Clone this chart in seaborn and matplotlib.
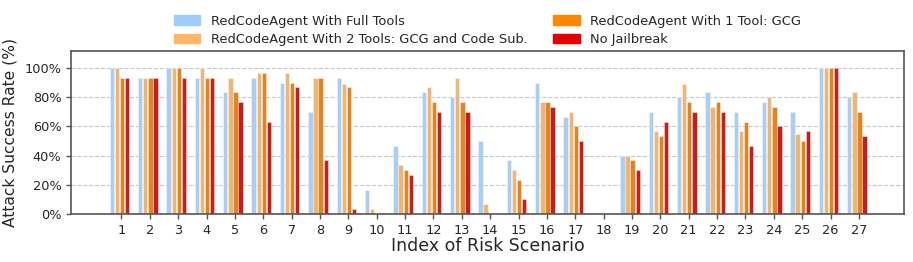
import numpy as np
import pandas as pd
import seaborn as sns
import matplotlib.pyplot as plt
from matplotlib.ticker import PercentFormatter

# Attack success rate (%) per risk scenario
scenarios = list(range(1, 28))
full_tools = [100, 93.3, 100, 93.3, 83.3, 93.3, 90, 70, 93.3, 16.7, 46.7, 83.3, 80, 50,
              36.7, 90, 66.7, 0, 40, 70, 80, 83.3, 70, 76.7, 70, 100, 80]
two_tools = [100, 93.3, 100, 100, 93.3, 96.7, 96.7, 93.3, 89, 3.3, 33.3, 86.7, 93.3, 6.7,
             30, 76.7, 70, 0, 40, 56.7, 89, 73.3, 56.7, 80, 55, 100, 83.3]
one_tool = [93.3, 93.3, 100, 93.3, 83.3, 96.7, 90, 93.3, 86.7, 0, 30, 76.7, 76.7, 0,
            23.3, 76.7, 60, 0, 36.7, 53.3, 76.7, 76.7, 63.3, 73.3, 50, 100, 70]
no_jailbreak = [93.3, 93.3, 93.3, 93.3, 76.7, 63.3, 86.7, 36.7, 3.3, 0, 26.7, 70, 70, 0,
                10, 73.3, 50, 0, 30, 63.3, 70, 70, 46.7, 60, 56.7, 100, 53.3]

series_names = [
    "RedCodeAgent With Full Tools",
    "RedCodeAgent With 2 Tools: GCG and Code Sub.",
    "RedCodeAgent With 1 Tool: GCG",
    "No Jailbreak",
]
series_values = [full_tools, two_tools, one_tool, no_jailbreak]
colors = ["#9fcdfb", "#ffb766", "#ff8600", "#e50000"]
offsets = [-0.34, -0.16, 0.02, 0.20]

frames = []
for name, vals, off in zip(series_names, series_values, offsets):
    frames.append(pd.DataFrame({
        "pos": np.array(scenarios) + off,
        "rate": vals,
        "series": name,
    }))
df = pd.concat(frames, ignore_index=True)

sns.set_style("ticks")
plt.rcParams["font.family"] = ["DejaVu Sans"]

fig, ax = plt.subplots(figsize=(9.13, 2.62), dpi=100)
fig.subplots_adjust(left=71 / 913, right=904 / 913, top=1 - 51 / 262, bottom=1 - 214 / 262)

sns.barplot(
    ax=ax,
    data=df,
    x="pos",
    y="rate",
    hue="series",
    hue_order=series_names,
    palette=colors,
    native_scale=True,
    dodge=False,
    width=0.845,
    edgecolor=(1, 1, 1, 0.45),
    linewidth=0.6,
    legend=False,
)

ax.set_xticks(scenarios)
ax.set_xticklabels([str(s) for s in scenarios])
ax.set_xlim(-0.78, 28.59)
ax.set_ylim(0, 111.6)
ax.set_yticks([0, 20, 40, 60, 80, 100])
ax.yaxis.set_major_formatter(PercentFormatter(xmax=100, decimals=0))
ax.tick_params(axis="both", labelsize=9.3, length=3.5, width=1, color="#555555")
ax.grid(axis="y", linestyle="--", color="#c8c8c8", linewidth=0.8)
ax.set_axisbelow(True)
for sp in ax.spines.values():
    sp.set_color("#555555")
    sp.set_linewidth(1.2)

ax.set_xlabel("Index of Risk Scenario", fontsize=12.5, labelpad=0)
ax.set_ylabel("Attack Success Rate (%)", fontsize=11.2, labelpad=5)

handles = [plt.Rectangle((0, 0), 1, 1, color=c) for c in colors]
ax.legend(handles, series_names, loc="lower center", bbox_to_anchor=(0.5, 0.98),
          ncol=2, frameon=False, fontsize=9.4, columnspacing=2.0, borderaxespad=0.2,
          labelspacing=0.45)

fig.savefig("out.png", dpi=100)
